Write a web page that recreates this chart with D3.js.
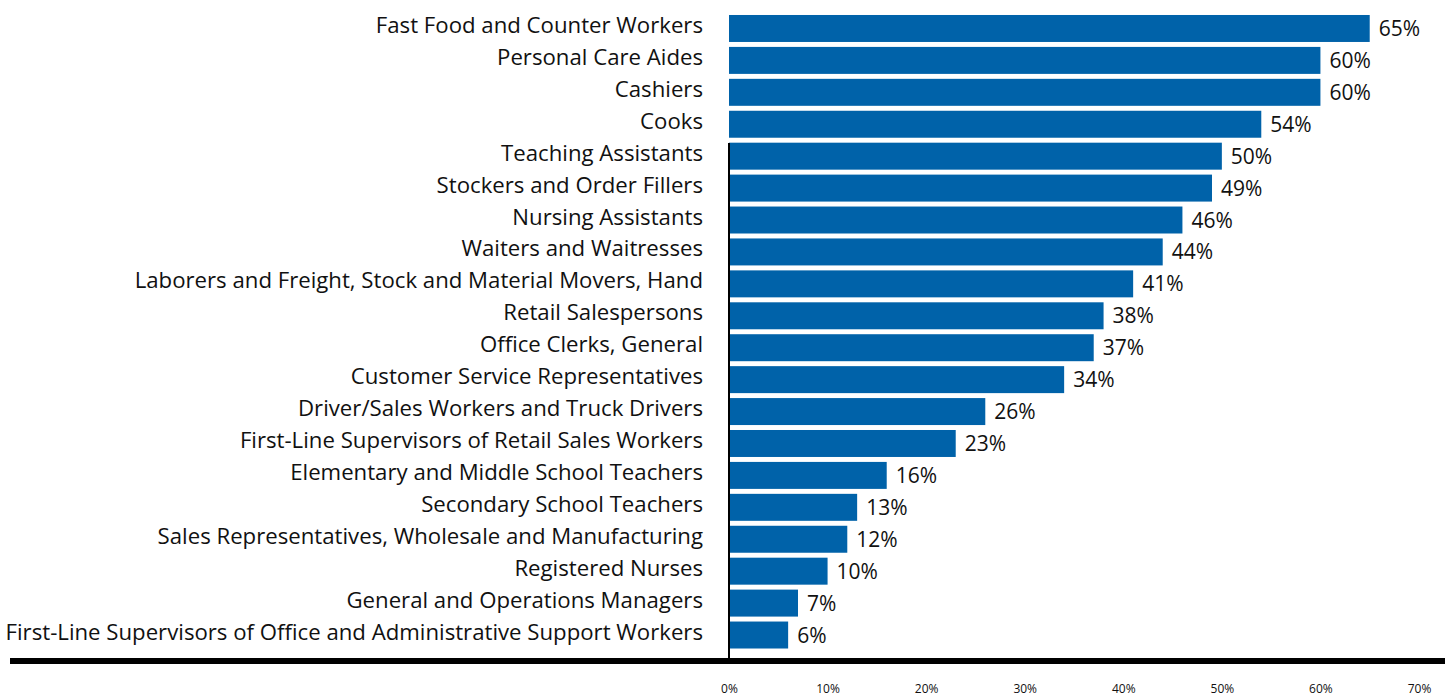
<!DOCTYPE html>
<html>
<head>
<meta charset="utf-8">
<script src="https://cdn.jsdelivr.net/npm/d3@7"></script>
<style>
  html, body { margin: 0; padding: 0; background: #fff; }
  svg { display: block; }
  text { font-family: "Open Sans", "Lato", sans-serif; fill: #111; }
</style>
</head>
<body>
<svg id="chart" width="1445" height="696"></svg>
<script>
// Occupations, top to bottom
const occupations = [
  "Fast Food and Counter Workers",
  "Personal Care Aides",
  "Cashiers",
  "Cooks",
  "Teaching Assistants",
  "Stockers and Order Fillers",
  "Nursing Assistants",
  "Waiters and Waitresses",
  "Laborers and Freight, Stock and Material Movers, Hand",
  "Retail Salespersons",
  "Office Clerks, General",
  "Customer Service Representatives",
  "Driver/Sales Workers and Truck Drivers",
  "First-Line Supervisors of Retail Sales Workers",
  "Elementary and Middle School Teachers",
  "Secondary School Teachers",
  "Sales Representatives, Wholesale and Manufacturing",
  "Registered Nurses",
  "General and Operations Managers",
  "First-Line Supervisors of Office and Administrative Support Workers"
];

// Share of workers (%)
const shares = [65, 60, 60, 54, 50, 49, 46, 44, 41, 38, 37, 34, 26, 23, 16, 13, 12, 10, 7, 6];

// Axis ticks (%)
const xTicks = [0, 10, 20, 30, 40, 50, 60, 70];

const rows = occupations.map((name, i) => ({ name, value: shares[i] }));

const svg = d3.select("#chart");
const barColor = "#0062a9";

const x = d3.scaleLinear().domain([0, 70]).range([729, 1419]);
const y = d3.scaleBand()
  .domain(occupations)
  .range([12.5, 651])
  .paddingInner(0.155)
  .paddingOuter(0.078);

// Bars
svg.append("g")
  .selectAll("rect")
  .data(rows)
  .join("rect")
  .attr("x", x(0))
  .attr("y", d => y(d.name))
  .attr("width", d => x(d.value) - x(0))
  .attr("height", y.bandwidth())
  .attr("fill", barColor);

// Category labels
svg.append("g")
  .selectAll("text")
  .data(rows)
  .join("text")
  .attr("x", 703)
  .attr("y", d => y(d.name) + y.bandwidth() / 2 + 4.5)
  .attr("text-anchor", "end")
  .style("font-size", "22.2px")
  .text(d => d.name);

// Value labels
svg.append("g")
  .selectAll("text")
  .data(rows)
  .join("text")
  .attr("x", d => x(d.value) + 9)
  .attr("y", d => y(d.name) + y.bandwidth() / 2 + 7.5)
  .style("font-size", "21px")
  .text(d => d.value + "%");

// Vertical baseline
svg.append("line")
  .attr("x1", x(0)).attr("x2", x(0))
  .attr("y1", 143).attr("y2", 660)
  .attr("stroke", "#000")
  .attr("stroke-width", 2);

// Heavy horizontal rule
svg.append("line")
  .attr("x1", 10).attr("x2", 1445)
  .attr("y1", 661).attr("y2", 661)
  .attr("stroke", "#000")
  .attr("stroke-width", 6);

// Tick labels
const xAxis = d3.axisBottom(x)
  .tickValues(xTicks)
  .tickFormat(d => d + "%")
  .tickSize(0)
  .tickPadding(0);

const axisG = svg.append("g")
  .attr("transform", "translate(0,684)")
  .call(xAxis);
axisG.select(".domain").remove();
axisG.selectAll("text")
  .style("font-family", "'Open Sans', Lato, sans-serif")
  .style("font-size", "12px")
  .attr("fill", "#111");
</script>
</body>
</html>
